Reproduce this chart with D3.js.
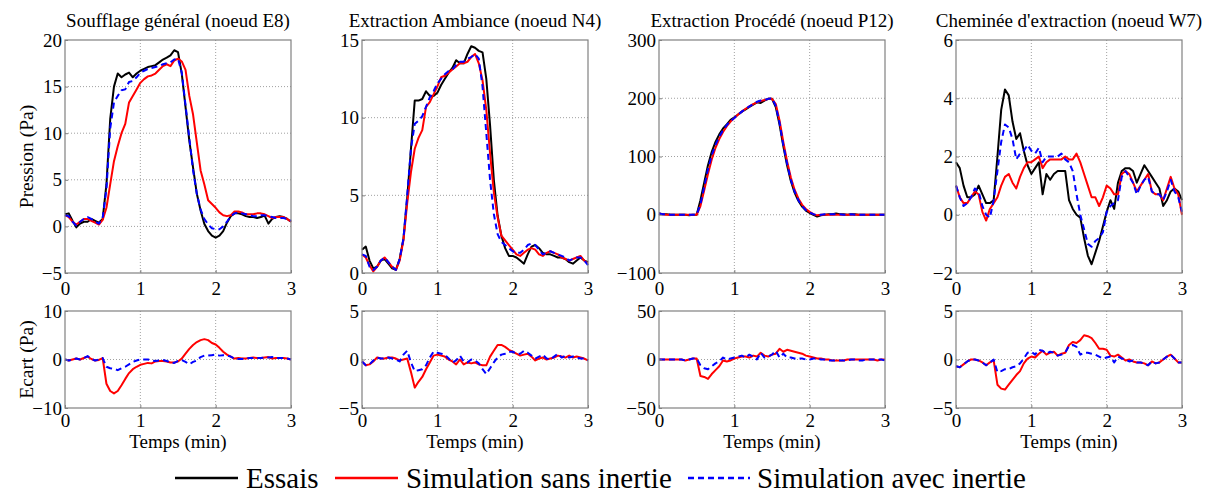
<!DOCTYPE html>
<html><head><meta charset="utf-8">
<script src="https://cdn.jsdelivr.net/npm/d3@7"></script>
<style>
html,body{margin:0;padding:0;background:#fff;}
svg text{font-family:'Liberation Serif','LiberationSerif','Times New Roman',Times,Tinos,'DejaVu Serif','Noto Serif',serif !important;fill:#000;}
</style></head>
<body>
<svg id="chart" width="1210" height="493"></svg>
<script>
// ---------- DATA ----------
const time = [0,0.05,0.1,0.15,0.2,0.25,0.3,0.35,0.4,0.45,
  0.5,0.55,0.6,0.65,0.7,0.75,0.8,0.85,0.9,0.95,
  1,1.05,1.1,1.15,1.2,1.25,1.3,1.35,1.4,1.45,
  1.5,1.55,1.6,1.65,1.7,1.75,1.8,1.85,1.9,1.95,
  2,2.05,2.1,2.15,2.2,2.25,2.3,2.35,2.4,2.45,
  2.5,2.55,2.6,2.65,2.7,2.75,2.8,2.85,2.9,2.95,3];

const titles = ["Soufflage général (noeud E8)", "Extraction Ambiance (noeud N4)",
                "Extraction Procédé (noeud P12)", "Cheminée d'extraction (noeud W7)"];
const legendLabels = ["Essais", "Simulation sans inertie", "Simulation avec inertie"];
const xTicks = [0, 1, 2, 3];
const topYTicks = [[-5,0,5,10,15,20],[0,5,10,15],[-100,0,100,200,300],[-2,0,2,4,6]];
const botYTicks = [[-10,0,10],[-5,0,5],[-50,0,50],[-5,0,5]];

// Panel 1 (E8) pressure
const e8Essais = [1.3,1.4,0.6,-0.1,0.3,0.5,0.5,0.8,0.6,0.4,
  0.8,4.5,11.5,15.0,16.4,16.0,16.3,16.5,16.0,16.4,
  16.7,16.9,17.1,17.2,17.3,17.6,17.9,18.1,18.35,18.9,
  18.7,16.4,12.8,9.2,6.3,3.5,1.7,0.25,-0.5,-1.0,
  -1.2,-1.0,-0.5,0.4,1.1,1.4,1.4,1.3,1.1,1.0,
  1.0,0.9,1.0,1.15,0.3,0.8,1.0,1.1,1.0,0.8,0.5];
const e8Sans = [1.2,1.0,0.5,0.2,0.5,0.8,0.8,0.6,0.4,0.2,
  0.7,2.0,4.5,7.0,8.6,10.0,11.0,13.3,14.0,14.7,
  15.4,15.8,16.1,16.2,16.4,16.8,17.2,17.4,17.2,17.8,
  18.0,17.7,16.8,14.0,12.0,9.0,6.0,4.5,2.8,2.4,
  2.0,1.5,1.2,1.1,1.2,1.6,1.6,1.5,1.3,1.3,
  1.3,1.4,1.4,1.3,1.1,0.9,1.0,1.0,1.0,0.8,0.5];
const e8Avec = [1.2,1.1,0.5,0.1,0.5,0.8,1.0,0.8,0.5,0.3,
  0.9,4.0,10.5,13.3,14.0,14.6,14.7,15.5,15.6,16.0,
  16.5,16.7,16.9,17.0,17.1,17.2,17.4,17.5,17.6,17.9,
  18.0,16.5,13.0,9.5,6.0,3.5,1.8,0.8,0.2,-0.2,
  -0.3,-0.3,0.0,0.5,1.1,1.4,1.5,1.4,1.3,1.2,
  1.1,1.1,1.2,1.2,1.1,1.0,0.9,0.9,0.9,0.8,0.6];

// Panel 2 (N4)
const n4Essais = [1.5,1.7,0.8,0.3,0.4,0.8,0.9,0.6,0.3,0.2,
  0.9,2.2,4.8,8.0,11.1,11.1,11.2,11.7,11.4,11.4,
  11.6,12.1,12.5,12.9,13.2,13.7,13.5,13.5,14.1,14.6,
  14.5,14.3,14.2,12.5,9.5,6.0,3.7,2.4,1.6,1.1,
  1.1,1.0,0.8,0.6,1.2,1.7,1.8,1.6,1.3,1.2,
  1.2,1.1,1.0,1.0,0.9,0.7,0.6,0.8,1.0,0.8,0.7];
const n4Sans = [1.2,1.0,0.5,0.1,0.4,0.8,1.0,0.7,0.4,0.2,
  0.8,2.1,4.5,6.5,8.0,8.7,9.2,10.7,11.0,11.5,
  12.0,12.6,12.7,12.9,13.1,13.3,13.5,13.5,13.6,13.9,
  14.1,13.5,12.4,10.5,7.7,5.2,3.6,2.4,2.1,1.8,
  1.5,1.2,1.1,1.3,1.5,1.6,1.5,1.2,1.1,1.3,
  1.4,1.3,1.2,1.0,0.9,0.8,0.9,1.0,1.1,0.8,0.6];
const n4Avec = [1.2,1.1,0.4,0.2,0.4,0.8,1.0,0.7,0.4,0.2,
  0.9,2.2,5.0,8.0,9.6,9.8,10.1,10.7,11.3,11.7,
  12.2,12.5,12.8,13.0,13.1,13.4,13.6,13.6,13.8,13.9,
  14.1,13.8,12.0,9.0,6.0,3.8,2.5,2.0,1.8,1.6,
  1.4,1.3,1.3,1.5,1.8,1.9,1.8,1.5,1.2,1.3,
  1.4,1.3,1.2,1.1,1.0,0.8,0.9,1.0,1.0,0.8,0.5];

// Panel 3 (P12)
const p12Essais = [2,1,1,0,0,0,0,0,-1,0,
  0,25,55,85,108,125,138,148,155,163,
  167,172,177,181,185,189,193,192,196,199,
  199,185,155,118,85,58,38,24,14,7,
  3,0,-3,-1,0,1,1,2,1,1,
  0,1,1,0,0,0,0,0,0,0,0];
const p12Sans = [2,1,0,0,0,0,0,0,0,0,
  0,15,42,70,95,115,130,142,152,160,
  166,172,177,182,186,190,193,195,197,199,
  199,190,162,125,92,64,43,28,17,10,
  5,1,-1,0,0,0,0,0,0,0,
  0,0,0,0,0,0,0,0,0,0,0];
const p12Avec = [2,1,1,0,0,0,0,0,0,0,
  0,18,48,78,102,120,134,145,154,161,
  166,172,177,182,186,190,194,196,197,199,
  200,187,158,120,88,60,40,25,15,8,
  4,1,-1,0,1,1,1,1,1,0,
  0,1,0,0,0,0,0,0,0,0,0];

// Panel 4 (W7)
const w7Essais = [1.8,1.6,1.0,0.6,0.6,0.7,1.0,0.7,0.4,0.4,
  0.5,2.0,3.6,4.3,4.1,3.2,2.6,2.8,2.2,1.7,
  1.4,1.6,1.8,0.7,1.4,1.2,1.4,1.5,1.5,1.5,
  0.5,0.2,0.0,-0.1,-0.8,-1.4,-1.7,-1.3,-0.9,-0.4,
  0.1,0.5,0.2,1.1,1.5,1.6,1.6,1.5,1.1,1.4,
  1.7,1.5,1.3,1.1,0.9,0.3,0.5,0.8,0.9,0.8,0.5];
const w7Sans = [1.0,0.6,0.4,0.4,0.6,0.8,0.7,0.1,-0.2,0.2,
  0.4,0.6,1.0,1.3,1.4,1.1,0.9,1.3,1.6,1.8,
  1.8,1.9,2.0,1.6,1.8,1.9,1.9,1.9,1.9,2.0,
  1.9,1.9,2.1,1.8,1.4,1.0,0.6,0.6,0.3,0.6,
  1.0,0.9,0.7,0.7,1.4,1.5,1.4,1.1,0.8,1.0,
  1.2,1.4,0.8,0.7,0.7,0.5,0.9,1.3,0.9,0.7,0.0];
const w7Avec = [1.0,0.6,0.3,0.4,0.6,0.9,0.8,0.3,0.0,-0.1,
  0.5,1.5,2.5,3.1,3.0,2.6,1.9,2.1,2.2,2.4,
  2.2,2.1,2.3,1.8,2.0,2.0,2.0,2.0,2.1,1.9,
  1.8,1.5,0.7,0.0,-0.5,-1.0,-1.1,-0.9,-0.8,-0.6,
  0.1,0.3,0.4,0.5,1.3,1.5,1.3,1.1,0.7,1.0,
  1.2,1.3,0.8,0.7,0.7,0.5,0.8,1.2,0.8,0.6,0.1];

// Ecart (deviation) panels
const e8EcartSans = [0,-0.2,0.0,0.2,0.0,0.3,0.6,0.1,-0.2,-0.1,
  0.3,-5.0,-6.5,-7.0,-6.5,-5.3,-4.0,-2.8,-2.0,-1.5,
  -1.1,-0.9,-0.7,-0.8,-0.4,-0.3,-0.3,-0.4,-0.6,-0.6,
  -0.4,0.2,1.2,2.2,3.0,3.6,4.0,4.2,4.0,3.4,
  3.1,2.4,1.6,1.0,0.6,0.2,0.3,0.2,0.2,0.3,
  0.4,0.3,0.3,0.4,0.5,0.2,0.3,0.3,0.3,0.2,0.0];
const e8EcartAvec = [0,-0.2,0.0,0.2,0.0,0.3,0.7,0.1,-0.2,0.0,
  0.3,-1.5,-1.8,-1.9,-2.2,-1.8,-1.5,-1.0,-0.5,-0.2,
  0.0,0.0,0.0,-0.2,-0.3,-0.2,-0.1,-0.3,-0.6,-0.7,
  -0.3,-0.1,-0.5,-1.0,-0.5,-0.2,0.5,0.8,0.8,0.9,
  1.0,0.8,0.9,0.8,0.6,0.2,0.1,0.1,0.2,0.3,
  0.3,0.3,0.3,0.4,0.4,0.5,0.3,0.3,0.3,0.2,0.0];
const n4EcartSans = [-0.2,-0.6,-0.5,-0.2,0.2,0.1,0.1,0.2,0.2,0.1,
  -0.1,0.0,0.1,-1.3,-2.9,-2.3,-1.8,-1.0,-0.3,0.4,
  0.5,0.4,0.3,0.0,-0.2,-0.5,0.0,-0.5,-0.3,-0.4,
  -0.3,-0.5,-0.6,-0.6,0.3,0.9,1.5,1.5,1.3,1.0,
  0.8,0.6,0.4,0.5,0.6,0.3,-0.1,0.1,0.2,0.0,
  0.1,0.2,0.4,0.3,0.2,0.4,0.2,0.3,0.2,0.1,-0.1];
const n4EcartAvec = [-0.2,-0.6,-0.5,-0.1,0.2,0.1,0.1,0.2,0.1,0.0,
  -0.2,0.5,0.9,-0.3,-1.2,-1.1,-1.0,-0.6,0.2,0.8,
  0.7,0.6,0.5,0.1,-0.3,-0.1,0.4,-0.2,-0.3,0.0,
  -0.1,-0.4,-1.0,-1.5,-0.9,-0.3,0.2,0.5,0.6,0.8,
  0.8,0.6,0.6,0.9,0.7,0.4,0.1,0.3,0.5,0.1,
  0.0,0.3,0.6,0.2,0.4,0.2,0.3,0.2,0.1,0.1,-0.1];
const p12EcartSans = [0,0,0,0,0,0,0,-1,0,1,
  1,-17,-18,-20,-15,-11,-7,-1,-2,-1,
  1,2,3,3,2,4,3,7,4,3,
  5,6,11,8,10,9,8,7,6,4,
  3,2,1,1,0,0,-1,-1,-1,-1,
  0,0,0,0,0,0,0,0,-1,0,0];
const p12EcartAvec = [0,0,0,0,0,0,0,-1,0,1,
  1,-6,-9,-10,-7,-4,-2,2,0,1,
  2,3,4,2,5,3,0,7,2,3,
  5,9,2,6,2,2,1,1,1,0,
  0,1,1,0,0,-1,-1,-1,-1,-1,
  -1,0,0,-1,-1,0,0,0,0,0,-1];
const w7EcartSans = [-0.7,-0.8,-0.5,-0.2,0.0,0.0,-0.1,-0.3,-0.6,-0.3,
  -0.1,-2.6,-3.0,-3.1,-2.6,-2.1,-1.6,-1.2,-0.4,0.1,
  0.3,0.2,0.6,0.9,0.5,0.7,0.8,0.4,0.6,0.7,
  1.5,1.8,1.7,2.0,2.5,2.4,2.2,1.7,1.1,1.1,
  1.0,0.4,0.3,0.5,0.2,-0.1,0.0,-0.2,-0.3,-0.3,
  -0.4,-0.6,-0.2,-0.4,-0.3,0.0,0.3,0.5,0.1,-0.3,-0.3];
const w7EcartAvec = [-0.7,-0.8,-0.5,-0.2,0.0,0.0,-0.1,-0.3,-0.6,-0.3,
  0.0,-1.3,-1.2,-1.0,-1.0,-0.8,-0.7,-0.4,0.1,0.7,
  0.8,0.5,1.0,0.9,0.6,0.8,0.7,0.4,0.5,0.7,
  1.4,1.5,1.3,0.5,0.7,0.7,0.6,0.5,0.3,0.1,
  0.2,0.3,-0.3,0.3,0.1,0.0,-0.2,-0.1,-0.3,-0.3,
  -0.4,-0.6,-0.2,-0.4,-0.3,0.0,0.3,0.5,0.1,-0.3,-0.3];

const topSeries = [[e8Essais,e8Sans,e8Avec],[n4Essais,n4Sans,n4Avec],[p12Essais,p12Sans,p12Avec],[w7Essais,w7Sans,w7Avec]];
const botSeries = [[e8EcartSans,e8EcartAvec],[n4EcartSans,n4EcartAvec],[p12EcartSans,p12EcartAvec],[w7EcartSans,w7EcartAvec]];

// ---------- LAYOUT ----------
const SERIF = "'Liberation Serif', 'LiberationSerif', 'Times New Roman', Times, Tinos, 'DejaVu Serif', 'Noto Serif', serif";
const svg = d3.select("#chart");
const panelLeft = [65, 362, 659, 956];
const panelW = 226;
const topBox = {y0: 40, y1: 273};
const botBox = {y0: 311, y1: 408};
const FONT = 19;
const colors = {essais: "#000000", sans: "#ff0000", avec: "#0000ff"};

function drawPanel(i, box, ticks, seriesList, styles, xPad) {
  const x = d3.scaleLinear().domain([0, 3]).range([panelLeft[i], panelLeft[i] + panelW]);
  const y = d3.scaleLinear().domain([ticks[0], ticks[ticks.length - 1]]).range([box.y1, box.y0]);
  const g = svg.append("g");
  g.append("g").selectAll("line").data(xTicks.slice(1, -1)).join("line")
    .attr("x1", d => x(d)).attr("x2", d => x(d)).attr("y1", box.y0).attr("y2", box.y1)
    .attr("stroke", "#a0a0a0").attr("stroke-width", 1).attr("stroke-dasharray", "1,2");
  g.append("g").selectAll("line").data(ticks.slice(1, -1)).join("line")
    .attr("x1", x(0)).attr("x2", x(3)).attr("y1", d => y(d)).attr("y2", d => y(d))
    .attr("stroke", "#a0a0a0").attr("stroke-width", 1).attr("stroke-dasharray", "1,2");
  const line = d3.line().x((d, k) => x(time[k])).y(d => y(d));
  seriesList.forEach((s, k) => {
    g.append("path").datum(s).attr("d", line).attr("fill", "none")
      .attr("stroke", styles[k].color).attr("stroke-width", 2)
      .attr("stroke-dasharray", styles[k].dash || null).attr("stroke-linejoin", "round");
  });
  g.append("rect").attr("x", x(0)).attr("y", box.y0).attr("width", x(3) - x(0)).attr("height", box.y1 - box.y0)
    .attr("fill", "none").attr("stroke", "#808080").attr("stroke-width", 1.2);
  const ax = g.append("g").attr("transform", `translate(0,${box.y1})`)
    .call(d3.axisBottom(x).tickValues(xTicks).tickFormat(d3.format("d")).tickSize(-3).tickPadding(xPad));
  const ay = g.append("g").attr("transform", `translate(${x(0)},0)`)
    .call(d3.axisLeft(y).tickValues(ticks).tickFormat(d3.format("d")).tickSize(-3).tickPadding(3));
  [ax, ay].forEach(a => {
    a.attr("font-family", SERIF);
    a.select(".domain").remove();
    a.selectAll(".tick line").attr("stroke", "#808080");
    a.selectAll("text").attr("font-size", FONT).attr("font-family", SERIF);
  });
  return x;
}

const styleTop = [{color: colors.essais}, {color: colors.sans}, {color: colors.avec, dash: "6,4"}];
const styleBot = [{color: colors.sans}, {color: colors.avec, dash: "6,4"}];

for (let i = 0; i < 4; i++) {
  const x = drawPanel(i, topBox, topYTicks[i], topSeries[i], styleTop, 9);
  svg.append("text").attr("x", (x(0) + x(3)) / 2).attr("y", 27).attr("text-anchor", "middle")
    .attr("font-family", SERIF).attr("font-size", 19).text(titles[i]);
  const xb = drawPanel(i, botBox, botYTicks[i], botSeries[i], styleBot, 6);
  svg.append("text").attr("x", (xb(0) + xb(3)) / 2).attr("y", 448).attr("text-anchor", "middle")
    .attr("font-family", SERIF).attr("font-size", 19).text("Temps (min)");
}

svg.append("text").attr("transform", `translate(33,${(topBox.y0 + topBox.y1) / 2}) rotate(-90)`)
  .attr("text-anchor", "middle").attr("font-family", SERIF).attr("font-size", 19.5).text("Pression (Pa)");
svg.append("text").attr("transform", `translate(33,${(botBox.y0 + botBox.y1) / 2}) rotate(-90)`)
  .attr("text-anchor", "middle").attr("font-family", SERIF).attr("font-size", 19.5).text("Ecart (Pa)");

const legendItems = [
  {label: legendLabels[0], color: colors.essais, dash: null, x0: 175, x1: 238, tx: 246},
  {label: legendLabels[1], color: colors.sans, dash: null, x0: 335, x1: 398, tx: 406},
  {label: legendLabels[2], color: colors.avec, dash: "6,4", x0: 688, x1: 750, tx: 757}
];
const lg = svg.append("g");
legendItems.forEach(it => {
  lg.append("line").attr("x1", it.x0).attr("x2", it.x1).attr("y1", 478).attr("y2", 478)
    .attr("stroke", it.color).attr("stroke-width", 2.5).attr("stroke-dasharray", it.dash);
  lg.append("text").attr("x", it.tx).attr("y", 488).attr("font-family", SERIF).attr("font-size", 29).text(it.label);
});
</script>
</body></html>
